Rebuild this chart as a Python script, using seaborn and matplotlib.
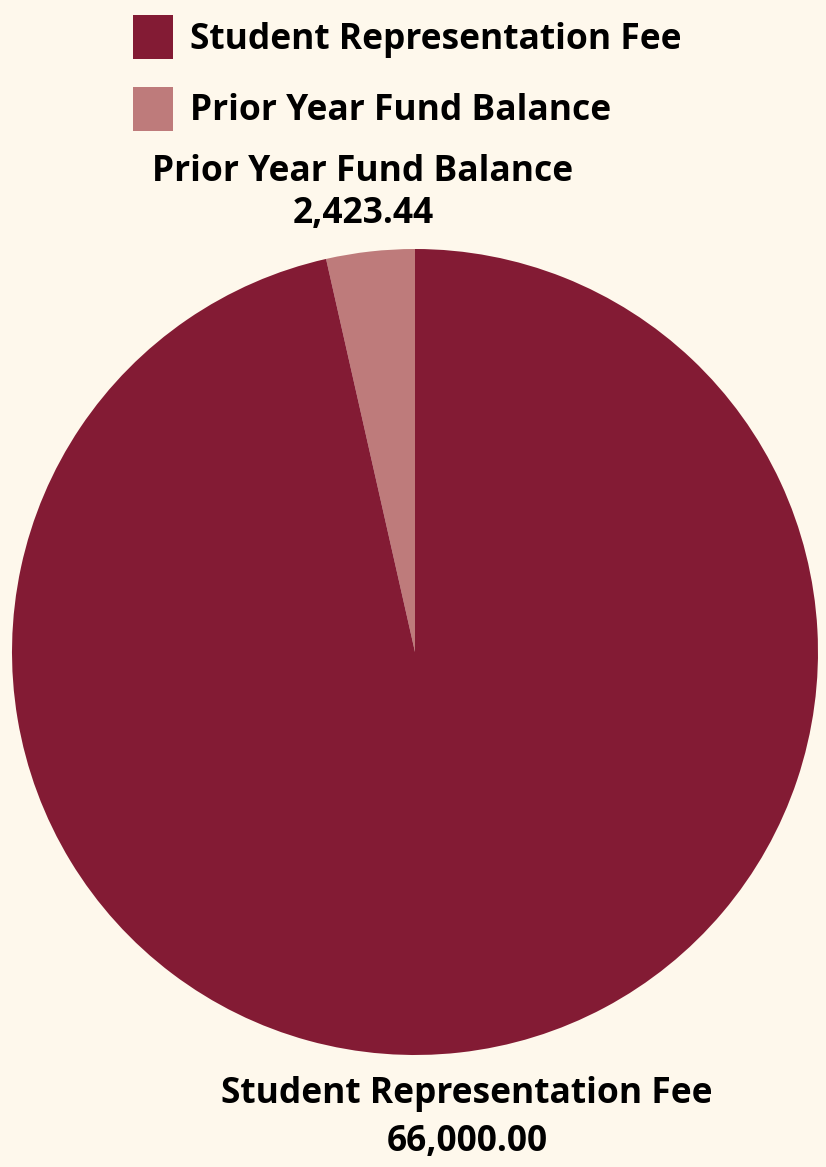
import matplotlib
matplotlib.use("Agg")
import matplotlib.pyplot as plt
import seaborn as sns

categories = ["Prior Year Fund Balance", "Student Representation Fee"]
values = [2423.44, 66000.00]
value_labels = ["2,423.44", "66,000.00"]
colors = ["#BE7B7B", "#831B34"]
bg = "#FEF8EC"

sns.set_theme(style="white")
plt.rcParams['font.family'] = ['Open Sans', 'DejaVu Sans']

fs = 25.5
fig = plt.figure(figsize=(8.26, 11.67), dpi=100, facecolor=bg)
ax = fig.add_axes([12/826, (1167-652-403)/1167, 806/826, 806/1167])
ax.set_facecolor(bg)
wedges, texts = ax.pie(values, colors=colors, startangle=90, counterclock=True,
                       labels=[f"{c}\n{v}" for c, v in zip(categories, value_labels)],
                       wedgeprops=dict(linewidth=0),
                       textprops=dict(fontsize=fs, fontweight='bold', color='black',
                                      ha='center', va='center'))
ax.set_xlim(-1, 1)
ax.set_ylim(-1, 1)
ax.set_aspect('equal')
ax.axis('off')
texts[0].set_position((-0.129, 1.139))
texts[0].set_linespacing(1.2)
texts[1].set_position((0.129, -1.156))
texts[1].set_linespacing(1.45)
texts[0].set_ha('center'); texts[1].set_ha('center')

leg = fig.legend([wedges[1], wedges[0]], [categories[1], categories[0]],
                 loc='upper left', bbox_to_anchor=(133/826, 1 - 15/1167),
                 frameon=False, fontsize=fs, handlelength=1.12, handleheight=1.55,
                 handletextpad=0.5, labelspacing=0.77, borderaxespad=0, borderpad=0)
for t in leg.get_texts():
    t.set_fontweight('bold')
    t.set_color('black')
fig.savefig("out.png", dpi=100, facecolor=bg)
